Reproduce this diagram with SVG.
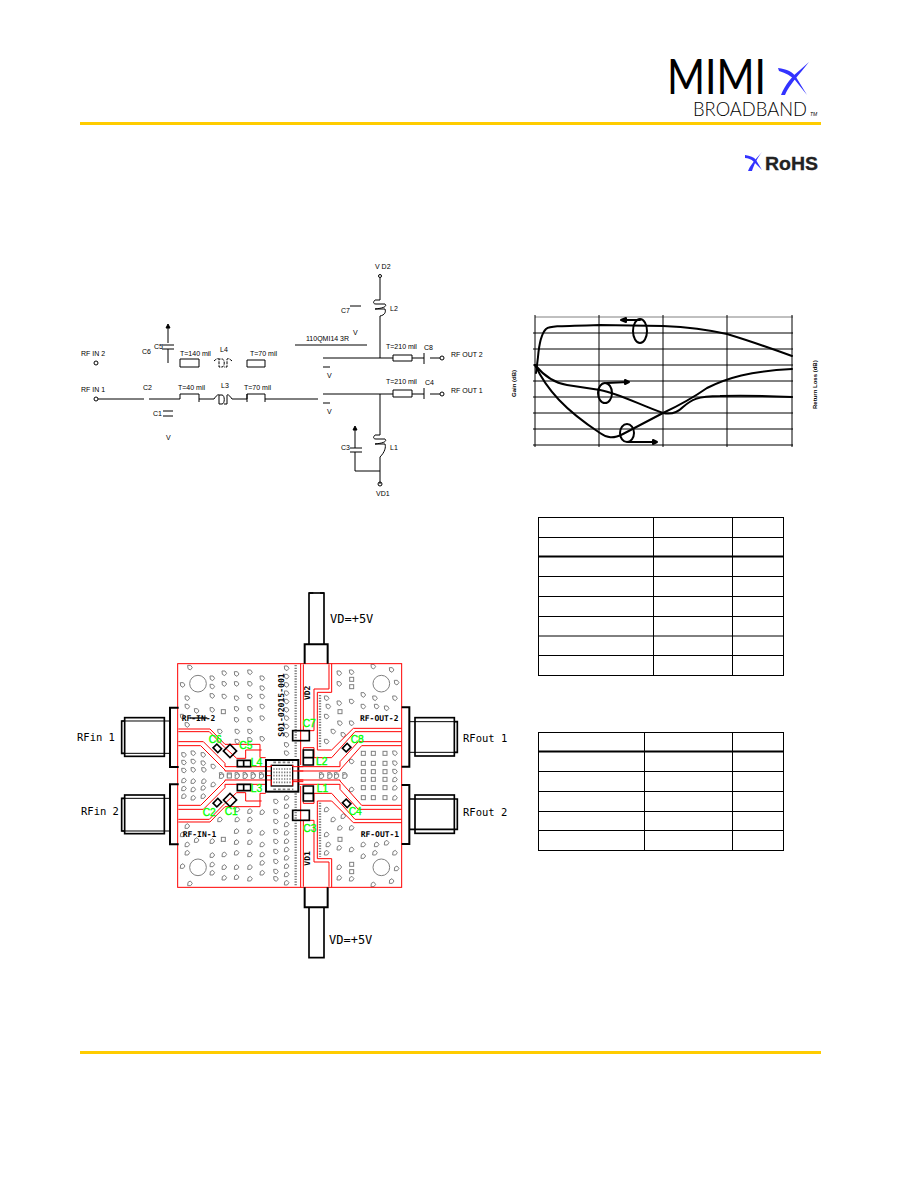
<svg xmlns="http://www.w3.org/2000/svg" xmlns:xlink="http://www.w3.org/1999/xlink" width="918" height="1188" viewBox="0 0 918 1188">
<style>
.k{fill:none;stroke:#000;stroke-width:1}
.s{font-family:"Liberation Sans",Arial,sans-serif;font-size:7px;fill:#000}
.c{fill:none;stroke:#000;stroke-width:2;stroke-linejoin:round;stroke-linecap:round}
.r{fill:none;stroke:#f00;stroke-width:3}
.b{fill:none;stroke:#000;stroke-width:6}
.b2{fill:none;stroke:#000;stroke-width:5}
.g{font-family:"Liberation Sans",Arial,sans-serif;font-size:31px;fill:#0f0;stroke:#0f0;stroke-width:1}
.m{font-family:"DejaVu Sans Mono",monospace;font-size:24px;font-weight:bold;fill:#000}
.l{font-family:"DejaVu Sans Mono",monospace;font-size:10.5px;fill:#000}
.d{fill:#fff;stroke:#808080;stroke-width:3}
.t{fill:none;stroke:#000;stroke-width:1}
</style>
<defs>
<path id="v" class="d" d="M-7-7H2L7 0 1 7-6 3Z"/>
<rect id="q" class="d" x="-6" y="-6" width="12" height="12"/>
</defs>
<rect width="918" height="1188" fill="#fff"/>

<g id="logo">
<text x="667" y="94" font-family="Lato,'Liberation Sans',sans-serif" font-weight="400" font-size="48" textLength="99" lengthAdjust="spacingAndGlyphs">MIMI</text>
<path d="M781 95C785 85 792 76 800 70L809 62 801 72C794 80 788 88 785 95Z" fill="#33f"/>
<path d="M778 68C787 69 793 72 796 77L807 95 795 80C791 76 786 73 779 71Z" fill="#33f"/>
<text x="693" y="116" font-family="Lato,'Liberation Sans',sans-serif" font-weight="300" font-size="19" textLength="114" lengthAdjust="spacingAndGlyphs">BROADBAND</text>
<text x="810" y="116" font-family="'Liberation Sans',sans-serif" font-style="italic" font-size="5">TM</text>
</g>
<rect id="rule-top" x="80" y="122" width="741" height="3" fill="#fc0"/>
<g id="rohs">
<path d="M748 171C750 166 753 162 762 152 756 160 754 165 752 171Z" fill="#33f"/>
<path d="M745 155C750 156 754 157 756 160L762 170 754 162C751 159 748 158 745 158Z" fill="#33f"/>
<text x="765" y="170" font-family="'Liberation Sans',sans-serif" font-weight="bold" font-size="18" fill="#222" stroke="#222" stroke-width=".3" textLength="53" lengthAdjust="spacingAndGlyphs">RoHS</text>
</g>

<g id="schematic">
<g id="wires" class="k">
<path d="M168 327V343M162 345H174M162 349H174M168 349V363"/>
<path d="M180 359H199V367H180ZM247 360H265V367H247Z"/>
<path d="M98 399H144M149 399H180V394H199V402M199 399H214M232 399H247V394H265V402M247 394V402M265 399H318"/>
<path d="M163 411H173M163 416H173"/>
<path d="M323 358H393M323 394H393"/>
<path d="M393 355H412V361H393ZM393 390H412V397H393Z"/>
<path d="M412 358H424M412 394H424M424 353V364M424 388V399M430 358H440M430 394H440"/>
<path d="M380 278V300M380 316V358M380 394V435M380 457V484"/>
<path d="M355 430V448M355 452V471H380M350 448H362M350 452H362"/>
<path d="M323 367H330M323 403H330M295 345H367M350 306H361"/>
</g>
<g id="arrows-s" fill="none" stroke="#000">
<path d="M168 324L170 328H166Z" fill="#000"/>
<path d="M355 426L357 430H353Z" fill="#000"/>
<circle cx="96" cy="363" r="2"/><circle cx="96" cy="399" r="2"/>
<circle cx="442" cy="358" r="2"/><circle cx="442" cy="394" r="2"/>
<circle cx="380" cy="484" r="2"/><circle cx="380" cy="276" r="1.5"/>
</g>
<g id="inductors" fill="none" stroke="#000">
<path d="M214 361C216 359 218 358 219 359V367H222C225 367 225 359 222 359H219M232 361C230 359 228 358 227 359V367H224" stroke-dasharray="3 1"/>
<path d="M214 399C216 396 218 394 219 395V404H222C225 404 225 395 222 395H219M232 399C230 396 228 394 227 395V404H224"/>
<path d="M380 300H375C373 302 373 304 376 304H385C387 306 385 308 375 309H385C386 312 385 315 380 316"/>
<path d="M380 435H375C373 437 373 439 376 439H385C387 441 385 443 375 444H385C386 447 385 452 380 457"/>
</g>
<g id="schem-labels" class="s">
<text x="81" y="356">RF IN 2</text>
<text x="81" y="392">RF IN 1</text>
<text x="142" y="354">C6</text>
<text x="154" y="349">C5</text>
<text x="180" y="356">T=140 mil</text>
<text x="220" y="352">L4</text>
<text x="250" y="356">T=70 mil</text>
<text x="143" y="390">C2</text>
<text x="178" y="390">T=40 mil</text>
<text x="221" y="388">L3</text>
<text x="244" y="390">T=70 mil</text>
<text x="153" y="416">C1</text>
<text x="166" y="440">V</text>
<text x="375" y="269">V D2</text>
<text x="341" y="313">C7</text>
<text x="390" y="311">L2</text>
<text x="306" y="341">110QMI14 3R</text>
<text x="353" y="335">V</text>
<text x="327" y="378">V</text>
<text x="327" y="414">V</text>
<text x="386" y="349">T=210 mil</text>
<text x="424" y="350">C8</text>
<text x="451" y="357">RF OUT 2</text>
<text x="386" y="384">T=210 mil</text>
<text x="425" y="385">C4</text>
<text x="451" y="393">RF OUT 1</text>
<text x="341" y="450">C3</text>
<text x="390" y="450">L1</text>
<text x="376" y="496">VD1</text>
</g>
</g>

<g id="chart">
<path d="M535 317H793" stroke="#808080" stroke-width="1" fill="none"/>
<path class="k" d="M533 333H793M533 349H793M533 365H793M533 381H793M533 397H793M533 413H793M533 429H793M533 445H793M535 315V447M599 315V447M663 315V447M727 315V447M792 315V447"/>
<g id="curves">
<path class="c" d="M536 373L538 357C539 345 541 334 546 329 550 326 557 326 600 325L663 326C685 327 705 329 727 334 750 341 770 348 792 356"/>
<path class="c" d="M535 365C545 377 555 383 567 385L600 390C620 394 640 405 663 413 672 415 678 412 683 407 691 400 697 396 720 396 745 395 770 396 792 397"/>
<path class="c" d="M535 365C547 390 565 410 600 433 607 438 613 439 623 434L663 413C680 405 697 395 707 388 727 378 750 371 792 369"/>
<ellipse class="c" cx="640" cy="331" rx="7" ry="12" stroke-width="1.6"/>
<ellipse class="c" cx="605" cy="393" rx="7" ry="10" stroke-width="1.6"/>
<ellipse class="c" cx="627" cy="433" rx="7" ry="9" stroke-width="1.6"/>
<path class="c" d="M640 320H624M621 320L626 318V322Z"/>
<path class="c" d="M607 383L628 382M629 382L625 380V384Z"/>
<path class="c" d="M628 442H656M657 442L653 440V444Z"/>
</g>
<text transform="translate(516 397) rotate(-90)" font-family="'Liberation Sans',sans-serif" font-weight="bold" font-size="6">Gain (dB)</text>
<text transform="translate(817 409) rotate(-90)" font-family="'Liberation Sans',sans-serif" font-weight="bold" font-size="6">Return Loss (dB)</text>
</g>

<g id="table-1" class="t">
<rect x="538.5" y="517.5" width="245" height="158"/>
<path d="M653.5 517V675M732.5 517V675M538 537.5H783M538 576.5H783M538 596.5H783M538 616.5H783M538 636H783M538 655.5H783"/>
<path d="M538 556.5H783" stroke-width="2"/>
</g>
<g id="table-2" class="t">
<rect x="538.5" y="732.5" width="245" height="118"/>
<path d="M644.5 732V850M732.5 732V850M538 771.5H783M538 791.5H783M538 811.5H783M538 830.5H783"/>
<path d="M538 751.5H783" stroke-width="2"/>
</g>

<g id="board" transform="translate(110 585) scale(.33333)">
<g id="vias">
<g id="vias-half">
<use href="#v" x="240" y="248"/><use href="#v" x="343" y="265"/><use href="#v" x="380" y="267"/><use href="#v" x="420" y="262"/><use href="#v" x="457" y="280"/><use href="#v" x="307" y="280"/><use href="#v" x="307" y="305"/><use href="#v" x="218" y="300"/><use href="#v" x="343" y="297"/><use href="#v" x="380" y="297"/><use href="#v" x="420" y="297"/><use href="#v" x="457" y="310"/><use href="#v" x="232" y="340"/><use href="#v" x="307" y="333"/><use href="#v" x="343" y="335"/><use href="#v" x="380" y="340"/><use href="#v" x="420" y="335"/><use href="#v" x="457" y="335"/><use href="#v" x="232" y="365"/><use href="#v" x="307" y="375"/><use href="#q" x="340" y="380"/><use href="#v" x="380" y="372"/><use href="#v" x="420" y="372"/><use href="#v" x="457" y="365"/><use href="#v" x="260" y="378"/><use href="#v" x="218" y="395"/><use href="#v" x="380" y="405"/><use href="#v" x="420" y="405"/><use href="#v" x="457" y="400"/><use href="#v" x="232" y="420"/><use href="#v" x="382" y="440"/><use href="#v" x="420" y="440"/><use href="#v" x="457" y="462"/><use href="#v" x="420" y="465"/><use href="#v" x="382" y="470"/><use href="#v" x="330" y="440"/>
<use href="#v" x="222" y="510"/><use href="#v" x="250" y="505"/><use href="#v" x="280" y="510"/><use href="#v" x="222" y="533"/><use href="#v" x="250" y="530"/><use href="#v" x="280" y="535"/><use href="#v" x="222" y="557"/><use href="#v" x="250" y="555"/><use href="#v" x="282" y="555"/><use href="#v" x="310" y="545"/><use href="#v" x="335" y="570"/><use href="#q" x="358" y="570"/><use href="#v" x="382" y="570"/><use href="#v" x="406" y="570"/><use href="#v" x="430" y="570"/><use href="#v" x="455" y="570"/>
<use href="#v" x="530" y="250"/><use href="#v" x="530" y="275"/><use href="#v" x="530" y="300"/><use href="#v" x="530" y="325"/><use href="#v" x="530" y="350"/><use href="#v" x="530" y="375"/><use href="#v" x="530" y="400"/><use href="#v" x="530" y="425"/><use href="#v" x="530" y="450"/><use href="#v" x="530" y="480"/><use href="#v" x="530" y="505"/>
<use href="#v" x="688" y="265"/><use href="#v" x="725" y="262"/><use href="#v" x="790" y="245"/><use href="#v" x="845" y="255"/><use href="#v" x="860" y="293"/><use href="#v" x="688" y="297"/><use href="#q" x="725" y="283"/><use href="#q" x="725" y="305"/><use href="#v" x="760" y="330"/><use href="#v" x="795" y="340"/><use href="#v" x="855" y="340"/><use href="#v" x="725" y="350"/><use href="#v" x="688" y="355"/><use href="#v" x="760" y="365"/><use href="#v" x="800" y="365"/><use href="#v" x="830" y="370"/><use href="#q" x="690" y="380"/><use href="#v" x="650" y="340"/><use href="#v" x="655" y="365"/><use href="#v" x="650" y="395"/><use href="#v" x="690" y="415"/><use href="#v" x="725" y="415"/><use href="#v" x="650" y="470"/><use href="#v" x="670" y="440"/><use href="#v" x="700" y="450"/>
<use href="#q" x="760" y="505"/><use href="#q" x="790" y="505"/><use href="#q" x="825" y="505"/><use href="#v" x="855" y="505"/><use href="#q" x="760" y="535"/><use href="#q" x="790" y="535"/><use href="#q" x="825" y="535"/><use href="#v" x="855" y="535"/><use href="#q" x="760" y="560"/><use href="#q" x="790" y="560"/><use href="#q" x="825" y="560"/><use href="#v" x="855" y="560"/><use href="#v" x="725" y="530"/><use href="#v" x="635" y="570"/><use href="#v" x="660" y="570"/><use href="#v" x="680" y="570"/><use href="#v" x="705" y="570"/>
</g>
<use href="#vias-half" transform="matrix(1 0 0 -1 0 1143)"/>
<g id="vias-dense" fill="none" stroke="#808080" stroke-width="7" stroke-dasharray="4 4">
<path d="M557 240V520M557 625V905M630 330V490M630 653V815"/>
</g>
<use href="#v" x="498" y="650"/><use href="#v" x="498" y="680"/><use href="#v" x="498" y="710"/><use href="#v" x="498" y="740"/><use href="#v" x="498" y="770"/><use href="#v" x="498" y="800"/><use href="#v" x="498" y="830"/><use href="#v" x="498" y="860"/><use href="#v" x="498" y="882"/>
</g>
<rect class="r" x="203" y="236" width="672" height="671"/>
<circle cx="264" cy="296" r="25" fill="#fff" stroke="#808080" stroke-width="3"/>
<circle cx="814" cy="296" r="25" fill="#fff" stroke="#808080" stroke-width="3"/>
<circle cx="264" cy="847" r="25" fill="#fff" stroke="#808080" stroke-width="3"/>
<circle cx="814" cy="847" r="25" fill="#fff" stroke="#808080" stroke-width="3"/>

<g id="connectors">
<g id="traces-half">
<path class="r" d="M205 432H300L345 478H450V518H467"/>
<path class="r" d="M205 440H298L345 488L380 520H407V495H455"/>
<path class="r" d="M205 470H280L345 535V545H467"/>
<path class="r" d="M205 482H272L345 555V558H467"/>
<path class="r" d="M875 430H730L665 495H622V322H665V236"/>
<path class="r" d="M875 440H735L665 518H612V488H580V540"/>
<path class="r" d="M875 470H745L690 530V545H568"/>
<path class="r" d="M875 482H755L690 555V558H568"/>
<path class="r" d="M657 238V312H612V437H580V238M572 236V540"/>
</g>
<use href="#traces-half" transform="matrix(1 0 0 -1 0 1143)"/>
</g>

<g id="parts-half-group">
<g id="parts-half">
<g id="c6"><rect class="b2" x="-8" y="-10" width="16" height="20" transform="translate(322 490) rotate(-45)"/></g>
<g id="c5"><rect class="b2" x="-14" y="-14" width="28" height="28" transform="translate(360 498) rotate(-45)"/></g>
<g id="l4"><path class="b2" d="M382 526H422V545H382ZM401 526V545"/></g>
<g id="c8"><rect class="b2" x="-8" y="-10" width="16" height="20" transform="translate(710 488) rotate(45)"/></g>
<g id="l2"><path class="b2" d="M580 495H610V540H580ZM580 518H610"/></g>
<g id="c7"><rect class="b2" x="548" y="437" width="50" height="30"/></g>
</g>
<use href="#parts-half" transform="matrix(1 0 0 -1 0 1143)"/>
</g>

<g id="chip">
<rect class="b" x="468" y="525" width="97" height="95"/>
<rect x="484" y="541" width="64" height="62" fill="#fff" stroke="#000" stroke-width="4"/>
<rect x="490" y="547" width="52" height="50" fill="#fff"/>
<path d="M490 552H545M490 562H545M490 572H545M490 582H545M490 592H545" fill="none" stroke="#808080" stroke-width="5" stroke-dasharray="4 4"/>
<path d="M490 532H550M490 613H550" fill="none" stroke="#808080" stroke-width="5" stroke-dasharray="8 6"/>
<path class="r" d="M484 540V545H470M484 558H470M484 602V585H470M484 572H470M548 540V545H580M548 558H580M548 602V585H580M548 590H580"/>
</g>

<g id="conn-left-1"><path class="b" d="M206 368H180V546H206"/><rect class="b2" x="44" y="398" width="119" height="116"/><path class="k" style="stroke-width:3" d="M35 408H180M35 505H180"/><path class="b2" d="M44 408H35V505H44"/></g>
<g id="conn-left-2"><path class="b" d="M206 598H180V778H206"/><rect class="b2" x="44" y="630" width="119" height="116"/><path class="k" style="stroke-width:3" d="M35 640H180M35 738H180"/><path class="b2" d="M44 640H35V738H44"/></g>
<g id="conn-right-1"><path class="b" d="M875 367H898V545H875"/><rect class="b2" x="915" y="398" width="118" height="115"/><path class="k" style="stroke-width:3" d="M898 410H1042M898 502H1042"/><path class="b2" d="M1033 410H1042V502H1033"/></g>
<g id="conn-right-2"><path class="b" d="M875 600H898V777H875"/><rect class="b2" x="915" y="630" width="118" height="115"/><path class="b2" d="M898 642H1042V733H898"/></g>
<g id="conn-top"><path class="b" d="M584 236V178H653V236"/><path class="b2" d="M597 178V24H610M642 178V24H630"/><path d="M597 24H642" stroke="#000" stroke-width="5"/></g>
<g id="conn-bottom"><path class="b" d="M584 907V967H653V907"/><path class="b2" d="M597 967V1118H642V967"/></g>

<g id="green-labels" class="g">
<text x="296" y="475">C6</text><text x="388" y="492">C5</text><text x="578" y="427">C7</text><text x="722" y="475">C8</text>
<text x="422" y="544">L4</text><text x="422" y="622">L3</text><text x="618" y="541">L2</text><text x="620" y="620">L1</text>
<text x="278" y="692">C2</text><text x="344" y="690">C1</text><text x="580" y="740">C3</text><text x="716" y="690">C4</text>
</g>
<g id="board-labels" class="m">
<text x="215" y="408">RF-IN-2</text><text x="218" y="757">RF-IN-1</text>
<text x="750" y="408">RF-OUT-2</text><text x="752" y="757">RF-OUT-1</text>
<text transform="translate(522 455) rotate(-90)" textLength="190" lengthAdjust="spacingAndGlyphs">S01-02015-001</text>
<text transform="translate(600 345) rotate(-90)">VD2</text>
<text transform="translate(600 842) rotate(-90)">VD1</text>
</g>
<path id="label-strike" d="M240 399H292" stroke="#000" stroke-width="4" fill="none"/>
</g>

<g id="ext-labels" class="l">
<text x="77" y="741">RFin 1</text>
<text x="81" y="815">RFin 2</text>
<text x="463" y="742">RFout 1</text>
<text x="463" y="816">RFout 2</text>
<text x="330" y="623" font-size="12" style="font-size:12px">VD=+5V</text>
<text x="329" y="944" style="font-size:12px">VD=+5V</text>
</g>
<rect id="rule-bottom" x="80" y="1051" width="741" height="3" fill="#fc0"/>
</svg>
